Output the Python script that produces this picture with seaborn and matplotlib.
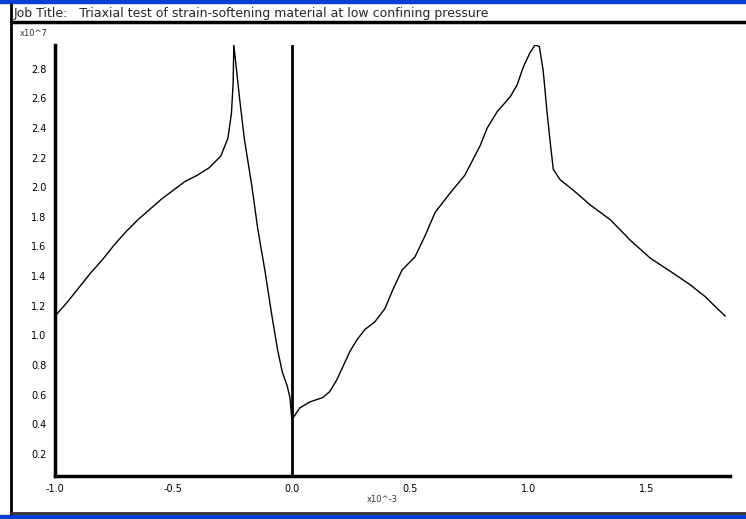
import numpy as np
import pandas as pd
import matplotlib.pyplot as plt
from matplotlib.patches import Rectangle
from matplotlib.lines import Line2D
import seaborn as sns

# strain (x10^-3) and stress (x10^7)
strain = [-1.0, -0.95, -0.9, -0.85, -0.8, -0.75, -0.7, -0.65, -0.6, -0.55,
          -0.5, -0.45, -0.4, -0.35, -0.3, -0.27, -0.255, -0.248, -0.245,
          -0.22, -0.2, -0.17, -0.144, -0.114, -0.085, -0.06, -0.04, -0.02,
          -0.008, 0.0,
          0.034, 0.076, 0.131, 0.16, 0.19, 0.216, 0.245, 0.275, 0.309, 0.35,
          0.393, 0.427, 0.465, 0.52, 0.562, 0.605, 0.668, 0.73, 0.795, 0.825,
          0.867, 0.922, 0.951, 0.977, 1.006, 1.027, 1.045, 1.061, 1.078,
          1.091, 1.104, 1.133, 1.188, 1.26, 1.345, 1.43, 1.514, 1.6, 1.683,
          1.746, 1.79, 1.83]
stress = [1.13, 1.22, 1.32, 1.42, 1.51, 1.61, 1.70, 1.78, 1.85, 1.92,
          1.98, 2.04, 2.08, 2.13, 2.21, 2.33, 2.50, 2.70, 2.96,
          2.59, 2.32, 2.02, 1.72, 1.44, 1.14, 0.90, 0.75, 0.66,
          0.58, 0.43,
          0.51, 0.55, 0.58, 0.62, 0.70, 0.79, 0.89, 0.97, 1.04, 1.09,
          1.18, 1.31, 1.44, 1.53, 1.67, 1.83, 1.96, 2.08, 2.28, 2.40,
          2.51, 2.61, 2.69, 2.81, 2.91, 2.96, 2.95, 2.79, 2.50,
          2.30, 2.12, 2.05, 1.98, 1.88, 1.78, 1.64, 1.52, 1.43, 1.34,
          1.26, 1.19, 1.13]

xticks = [-1.0, -0.5, 0.0, 0.5, 1.0, 1.5]
yticks = [0.2, 0.4, 0.6, 0.8, 1.0, 1.2, 1.4, 1.6, 1.8, 2.0, 2.2, 2.4, 2.6, 2.8]

df = pd.DataFrame({"strain": strain, "stress": stress})

sns.set_style("white")
plt.rcParams['font.family'] = ['DejaVu Sans']

fig = plt.figure(figsize=(7.46, 5.19), dpi=100)
W, H = 746, 519
ax = fig.add_axes([55 / W, 1 - 476 / H, (730 - 55) / W, (476 - 45) / H])

sns.lineplot(data=df, x="strain", y="stress", color="black", linewidth=1.0,
             estimator=None, sort=False, ax=ax)
ax.axvline(0.0, color="black", linewidth=2.0)

ax.set_xlim(-1.0, 1.85)
ax.set_ylim(0.05, 2.96)
ax.set_xticks(xticks)
ax.set_xticklabels([f"{v:.1f}" for v in xticks])
ax.set_yticks(yticks)
ax.set_yticklabels([f"{v:.1f}" for v in yticks])
ax.set_xlabel("")
ax.set_ylabel("")
ax.tick_params(axis="both", direction="out", length=4, width=2, labelsize=7,
               colors="black", pad=2)

sns.despine(ax=ax)
for s in ["left", "bottom"]:
    ax.spines[s].set_linewidth(2.5)
    ax.spines[s].set_color("black")

# frame around the plot window
blue = "#0a3fd6"
fig.patches.append(Rectangle((0, 1 - 3 / H), 1, 3 / H, transform=fig.transFigure,
                             color=blue, zorder=0))
fig.patches.append(Rectangle((0, 0), 1, 4 / H, transform=fig.transFigure,
                             color=blue, zorder=0))
fig.lines.append(Line2D([11 / W, 11 / W], [1 - 4 / H, 5 / H], transform=fig.transFigure,
                        color="black", linewidth=2))
fig.lines.append(Line2D([11 / W, 1], [1 - 22 / H, 1 - 22 / H], transform=fig.transFigure,
                        color="black", linewidth=2.5))
fig.lines.append(Line2D([11 / W, 1], [6 / H, 6 / H], transform=fig.transFigure,
                        color="#333333", linewidth=2))

fig.text(14 / W, 1 - 13 / H,
         "Job Title:   Triaxial test of strain-softening material at low confining pressure",
         fontsize=9, va="center", ha="left")
fig.text(20 / W, 1 - 33 / H, "x10^7", fontsize=6, va="center", ha="left", color="#333333")
fig.text(382 / W, 1 - 500 / H, "x10^-3", fontsize=6, va="center", ha="center", color="#333333")

fig.savefig("out.png", dpi=100)
